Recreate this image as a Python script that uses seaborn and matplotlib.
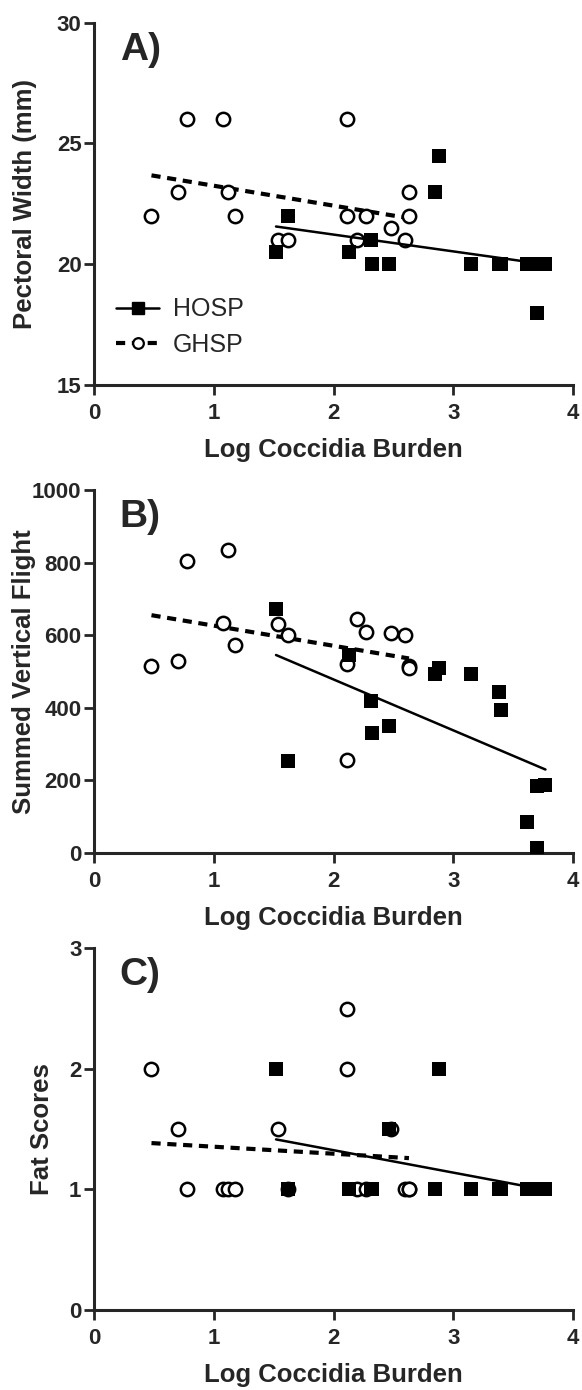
import numpy as np
import pandas as pd
import matplotlib
matplotlib.use("Agg")
import matplotlib.pyplot as plt
from matplotlib.lines import Line2D
import seaborn as sns

sns.set_style("ticks")
plt.rcParams['font.family'] = ['Liberation Sans', 'DejaVu Sans']

# ---- data ----
hosp_log = [1.52, 1.62, 2.13, 2.31, 2.32, 2.46, 2.85, 2.88, 3.15, 3.38, 3.40, 3.62, 3.70, 3.70, 3.77]
hosp_pectoral = [20.5, 22, 20.5, 21, 20, 20, 23, 24.5, 20, 20, 20, 20, 20, 18, 20]
hosp_flight = [671, 253, 545, 419, 329, 349, 494, 508, 494, 444, 393, 85, 184, 12, 188]
hosp_fat = [2, 1, 1, 1, 1, 1.5, 1, 2, 1, 1, 1, 1, 1, 1, 1]

ghsp_log = [0.48, 0.70, 0.78, 1.08, 1.12, 1.18, 1.54, 1.62, 2.11, 2.11, 2.20, 2.27, 2.48, 2.60, 2.63, 2.63]
ghsp_pectoral = [22, 23, 26, 26, 23, 22, 21, 21, 26, 22, 21, 22, 21.5, 21, 22, 23]
ghsp_flight = [515, 529, 805, 634, 835, 574, 630, 599, 519, 256, 644, 609, 605, 599, 515, 508]
ghsp_fat = [2, 1.5, 1, 1, 1, 1, 1.5, 1, 2.5, 2, 1, 1, 1.5, 1, 1, 1]

species = ["HOSP", "GHSP"]
panel_labels = ["A)", "B)", "C)"]
y_labels = ["Pectoral Width (mm)", "Summed Vertical Flight", "Fat Scores"]
x_label = "Log Coccidia Burden"
x_ticks = [0, 1, 2, 3, 4]
y_ticks = [[15, 20, 25, 30], [0, 200, 400, 600, 800, 1000], [0, 1, 2, 3]]
y_lims = [(15, 30), (0, 1000), (0, 3)]

hosp = pd.DataFrame({"log": hosp_log, "pw": hosp_pectoral, "svf": hosp_flight, "fat": hosp_fat})
ghsp = pd.DataFrame({"log": ghsp_log, "pw": ghsp_pectoral, "svf": ghsp_flight, "fat": ghsp_fat})
cols = ["pw", "svf", "fat"]

fig = plt.figure(figsize=(5.82, 13.90), dpi=100)
left, width = 94 / 582, 479 / 582
tops = [22.7, 490, 948.3]
bottoms = [385, 852.7, 1310]
ylabel_x = [-0.119, -0.121, -0.084]

ms_sq = 10.0
ms_ci = 9.6
dash = (0, (2.2, 1.6))
for i in range(3):
    ax = fig.add_axes([left, 1 - bottoms[i] / 1390, width, (bottoms[i] - tops[i]) / 1390])
    # GHSP circles, dashed fit
    sns.regplot(data=ghsp, x="log", y=cols[i], ax=ax, ci=None, marker="o",
                scatter_kws=dict(s=ms_ci ** 2, facecolors="white", edgecolors="black",
                                 linewidths=1.8, alpha=1, zorder=3),
                line_kws=dict(color="black", linestyle=dash, linewidth=3.0, zorder=2))
    # HOSP squares, solid fit
    sns.regplot(data=hosp, x="log", y=cols[i], ax=ax, ci=None, marker="s",
                scatter_kws=dict(s=ms_sq ** 2, color="black", edgecolors="black",
                                 linewidths=0, alpha=1, zorder=4),
                line_kws=dict(color="black", linestyle="-", linewidth=1.8, zorder=5))
    ax.set_xlim(0, 4)
    ax.set_ylim(*y_lims[i])
    ax.set_xticks(x_ticks)
    ax.set_yticks(y_ticks[i])
    sns.despine(ax=ax)
    for s in ["left", "bottom"]:
        ax.spines[s].set_linewidth(2.2)
    ax.tick_params(axis="both", direction="out", length=7, width=2.0, labelsize=16, pad=2)
    ax.tick_params(axis="x", pad=6)
    for t in ax.get_xticklabels() + ax.get_yticklabels():
        t.set_fontweight("bold")
    ax.set_xlabel(x_label, fontsize=18.5, fontweight="bold", labelpad=10)
    ax.set_ylabel(y_labels[i], fontsize=18.5, fontweight="bold")
    ax.yaxis.set_label_coords(ylabel_x[i], 0.5)
    ax.text(0.054, 0.975, panel_labels[i], transform=ax.transAxes, fontsize=28,
            fontweight="bold", ha="left", va="top")
    if i == 0:
        handles = [
            Line2D([], [], color="black", linestyle="-", linewidth=1.8, marker="s",
                   markersize=ms_sq * 0.9, markerfacecolor="black", markeredgecolor="black"),
            Line2D([], [], color="black", linestyle=dash, linewidth=3.0, marker="o",
                   markersize=ms_ci * 0.8, markerfacecolor="white", markeredgecolor="black",
                   markeredgewidth=1.6),
        ]
        ax.legend(handles, species, loc="lower left", bbox_to_anchor=(0.01, 0.03),
                  frameon=False, fontsize=18, handlelength=1.7, numpoints=1,
                  handletextpad=0.55, labelspacing=0.45, borderaxespad=0.3)

fig.savefig("out.png", dpi=100)
